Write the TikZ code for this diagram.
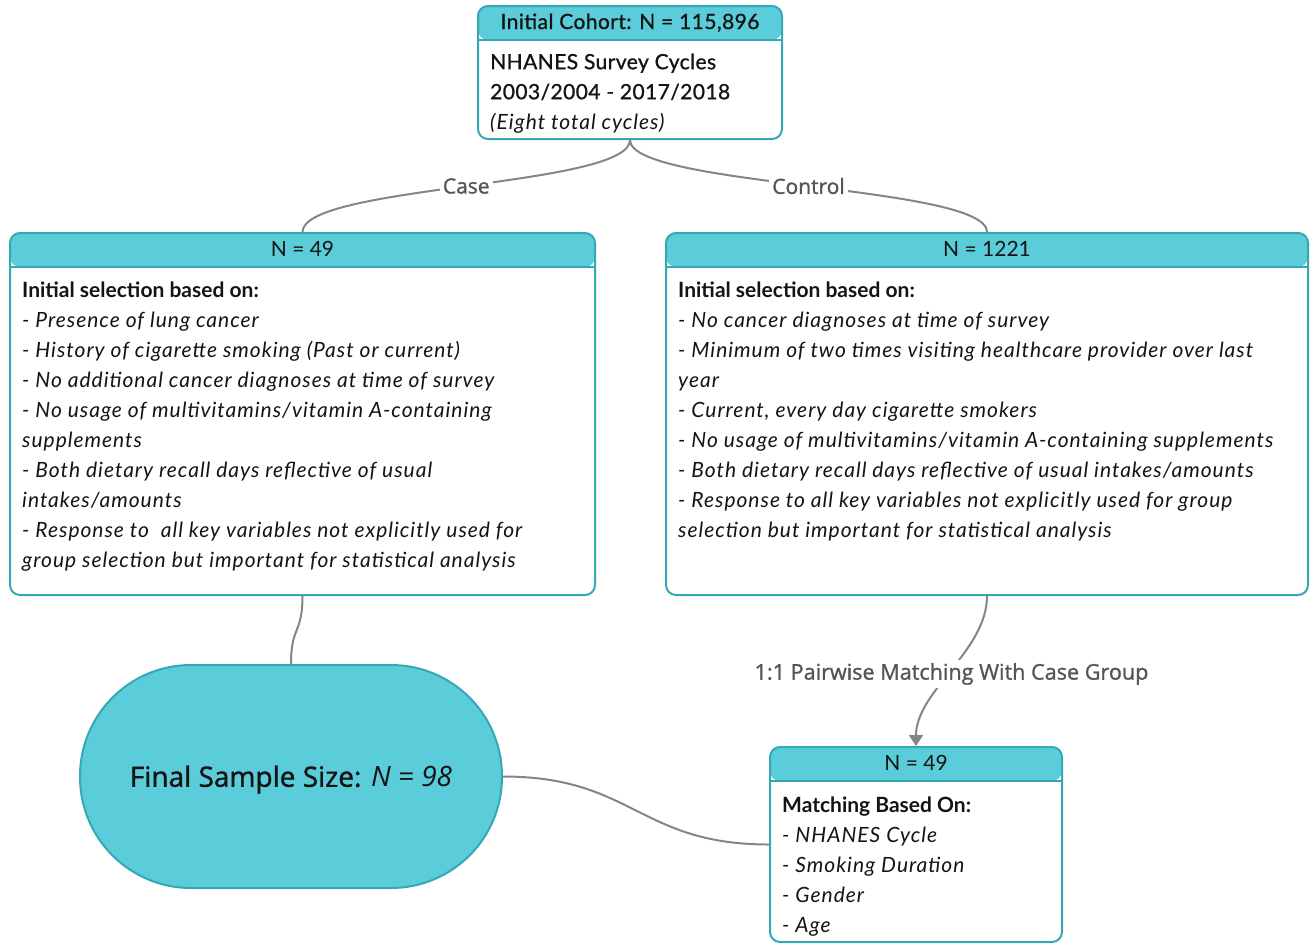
\documentclass[tikz,border=0pt]{standalone}
\usepackage{fontspec}
\setmainfont{Lato}[ItalicFeatures={LetterSpace=4.7}]
\newfontfamily\labfont{Open Sans}
\newfontfamily\labsemi[FakeBold=1.2]{Open Sans}
\newfontfamily\medfont[FakeBold=1.0,LetterSpace=2]{Lato}
\usetikzlibrary{arrows.meta,calc}
\definecolor{hdr}{HTML}{5BCCD9}
\definecolor{bdr}{HTML}{35A8B5}
\definecolor{connc}{HTML}{858585}
\definecolor{labc}{HTML}{555555}
\definecolor{txt}{HTML}{141414}
\begin{document}
\begin{tikzpicture}[x=1pt,y=-1pt,
  hbox/.style={draw=bdr, fill=white, line width=2pt, rounded corners=10pt, inner sep=0pt,
    path picture={
      \fill[hdr] (path picture bounding box.north west) rectangle ([yshift=-34pt]path picture bounding box.north east);
      \draw[bdr, line width=2pt] ([yshift=-34pt]path picture bounding box.north west) -- ([yshift=-34pt]path picture bounding box.north east);
    }},
  body/.style={anchor=north west, inner sep=0pt, align=left, text=txt, font=\fontsize{21}{30}\selectfont},
  hdrtext/.style={anchor=base, inner sep=0pt, text=txt, font=\fontsize{21}{24}\selectfont},
  connector/.style={draw=connc, line width=2pt},
  lab/.style={fill=white, inner sep=3pt, text=labc, font=\labsemi\fontsize{21}{24}\selectfont}]
\useasboundingbox (0,0) rectangle (1316,945);

% boxes
\node[hbox, minimum width=304pt, minimum height=133pt] (top) at (630,72.5) {};
\node[hdrtext, font=\medfont\fontsize{21}{24}\selectfont] (toph) at ([yshift=-24pt]top.north) {Initial Cohort: N = 115,896};
\node[body] (topb) at (490,48) {{\medfont NHANES Survey Cycles}\strut\\{\medfont 2003/2004 - 2017/2018}\\\textit{(Eight total cycles)}};

\node[hbox, minimum width=585pt, minimum height=362pt] (case) at (302.5,414) {};
\node[hdrtext] (caseh) at ([yshift=-24pt]case.north) {N = 49};
\node[body] (caseb) at (22,276) {\textbf{Initial selection based on:}\strut\\
\textit{- Presence of lung cancer}\\
\textit{- History of cigarette smoking (Past or current)}\\
\textit{- No additional cancer diagnoses at time of survey}\\
\textit{- No usage of multivitamins/vitamin A-containing}\\
\textit{supplements}\\
\textit{- Both dietary recall days reflective of usual}\\
\textit{intakes/amounts}\\
\textit{- Response to\ \ all key variables not explicitly used for}\\
\textit{group selection but important for statistical analysis}};

\node[hbox, minimum width=642pt, minimum height=362pt] (ctrl) at (987,414) {};
\node[hdrtext] (ctrlh) at ([yshift=-24pt]ctrl.north) {N = 1221};
\node[body] (ctrlb) at (678,276) {\textbf{Initial selection based on:}\strut\\
\textit{- No cancer diagnoses at time of survey}\\
\textit{- Minimum of two times visiting healthcare provider over last}\\
\textit{year}\\
\textit{- Current, every day cigarette smokers}\\
\textit{- No usage of multivitamins/vitamin A-containing supplements}\\
\textit{- Both dietary recall days reflective of usual intakes/amounts}\\
\textit{- Response to all key variables not explicitly used for group}\\
\textit{selection but important for statistical analysis}};

\node[hbox, minimum width=292pt, minimum height=195pt] (match) at (916,844.5) {};
\node[hdrtext] (matchh) at ([yshift=-24pt]match.north) {N = 49};
\node[body] (matchb) at (782,791) {\textbf{Matching Based On:}\strut\\
\textit{- NHANES Cycle}\\
\textit{- Smoking Duration}\\
\textit{- Gender}\\
\textit{- Age}};

\node[draw=bdr, fill=hdr, line width=2pt, rounded corners=111pt, minimum width=422pt, minimum height=223pt, inner sep=0pt, text=txt, font=\fontsize{28}{34}\selectfont] (final) at (291,776.5)
  {\raisebox{-3pt}[\height][\depth]{{\labsemi Final Sample Size:} {\labfont\itshape N = 98}}};

% connectors
\draw[connector] (top.south) .. controls +(0,47) and +(0,-47) .. node[lab] (lcase) {Case} (case.north);
\draw[connector] (top.south) .. controls +(0,47) and +(0,-47) .. node[lab] (lctrl) {Control} (ctrl.north);
\draw[connector] (case.south) .. controls +(0,38) and +(0,-38) .. (final.north);
\draw[connector, -{Triangle[width=14pt,length=11pt]}] (ctrl.south) .. controls +(0,55) and +(0,-55) .. node[lab, yshift=-3pt, font=\labsemi\fontsize{21.6}{24}\selectfont] (lmatch) {1:1 Pairwise Matching With Case Group} (match.north);
\draw[connector] (final.east) .. controls +(130,0) and +(-130,0) .. (match.west);
\end{tikzpicture}
\end{document}
